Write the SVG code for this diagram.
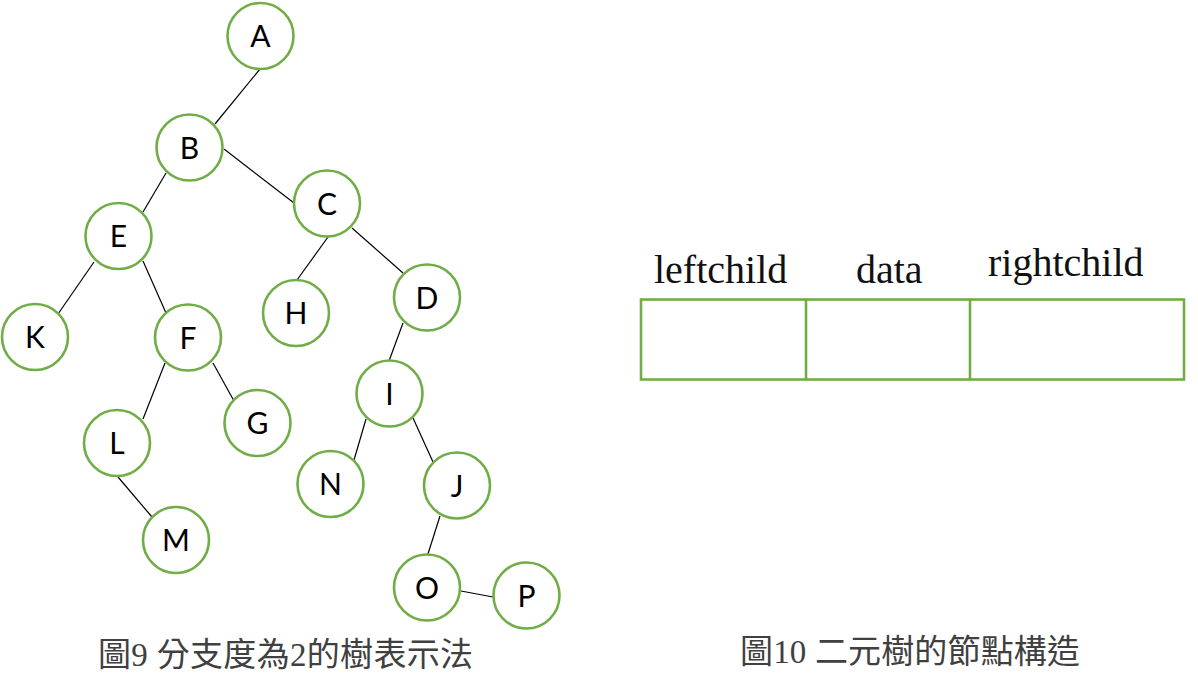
<svg xmlns="http://www.w3.org/2000/svg" width="1198" height="695" viewBox="0 0 1198 695">
<style>
.n circle{fill:#fff;stroke:#70AD47;stroke-width:2.6}
.n text{font-family:Lato,"Open Sans",sans-serif;font-size:30px;fill:#000;text-anchor:middle}
.e line{stroke:#000;stroke-width:1.2}
.lbl{font-family:"Liberation Serif",serif;font-size:40px;fill:#111}
.cap{font-family:"Liberation Serif","Noto Sans CJK TC",serif;font-size:33px;fill:#404040}
.tbl{fill:none;stroke:#70AD47;stroke-width:2.6}
</style>
<rect width="1198" height="695" fill="#fff"/>
<g id="connectors" class="e">
<line x1="260" y1="69" x2="215" y2="124"/>
<line x1="224" y1="149" x2="294" y2="203"/>
<line x1="166" y1="173" x2="143" y2="212"/>
<line x1="94" y1="262" x2="58" y2="314"/>
<line x1="143" y1="261" x2="166" y2="313"/>
<line x1="165" y1="363" x2="143" y2="419"/>
<line x1="213" y1="363" x2="234" y2="401"/>
<line x1="118" y1="477" x2="152" y2="517"/>
<line x1="328" y1="237" x2="297" y2="280"/>
<line x1="352" y1="228" x2="403" y2="273"/>
<line x1="403" y1="323" x2="389" y2="361"/>
<line x1="366" y1="419" x2="354" y2="460"/>
<line x1="413" y1="418" x2="433" y2="462"/>
<line x1="440" y1="516" x2="427" y2="557"/>
<line x1="461" y1="591" x2="493" y2="597"/>
</g>
<g id="node-A" class="n"><circle cx="260.5" cy="36" r="33"/><text x="260.5" y="47">A</text></g>
<g id="node-B" class="n"><circle cx="189.5" cy="147.5" r="33"/><text x="189.5" y="158.5">B</text></g>
<g id="node-C" class="n"><circle cx="327" cy="203.5" r="33"/><text x="327" y="214.5">C</text></g>
<g id="node-E" class="n"><circle cx="118.5" cy="236" r="33"/><text x="118.5" y="247">E</text></g>
<g id="node-K" class="n"><circle cx="35" cy="337" r="33"/><text x="35" y="348">K</text></g>
<g id="node-F" class="n"><circle cx="188" cy="337.5" r="33"/><text x="188" y="348.5">F</text></g>
<g id="node-G" class="n"><circle cx="257.5" cy="423" r="33"/><text x="257.5" y="434">G</text></g>
<g id="node-L" class="n"><circle cx="117" cy="443" r="33"/><text x="117" y="454">L</text></g>
<g id="node-M" class="n"><circle cx="176" cy="540" r="33"/><text x="176" y="551">M</text></g>
<g id="node-H" class="n"><circle cx="296" cy="313" r="33"/><text x="296" y="324">H</text></g>
<g id="node-D" class="n"><circle cx="427" cy="297.5" r="33"/><text x="427" y="308.5">D</text></g>
<g id="node-I" class="n"><circle cx="389.5" cy="393.5" r="33"/><text x="389.5" y="404.5">I</text></g>
<g id="node-N" class="n"><circle cx="330.5" cy="484" r="33"/><text x="330.5" y="495">N</text></g>
<g id="node-J" class="n"><circle cx="457" cy="485.5" r="33"/><text x="457" y="496.5">J</text></g>
<g id="node-O" class="n"><circle cx="427" cy="587.5" r="33"/><text x="427" y="598.5">O</text></g>
<g id="node-P" class="n"><circle cx="526.5" cy="595.5" r="33"/><text x="526.5" y="606.5">P</text></g>
<g id="node-structure">
<rect class="tbl" x="641" y="299.5" width="543" height="80"/>
<line class="tbl" x1="806" y1="299.5" x2="806" y2="379.5"/>
<line class="tbl" x1="970" y1="299.5" x2="970" y2="379.5"/>
<text class="lbl" x="654" y="283">leftchild</text>
<text class="lbl" x="856" y="283">data</text>
<text class="lbl" x="988" y="276">rightchild</text>
</g>
<text class="cap" x="98" y="666" textLength="375">圖9 分支度為2的樹表示法</text>
<text class="cap" x="740" y="663" textLength="340">圖10 二元樹的節點構造</text>
</svg>
